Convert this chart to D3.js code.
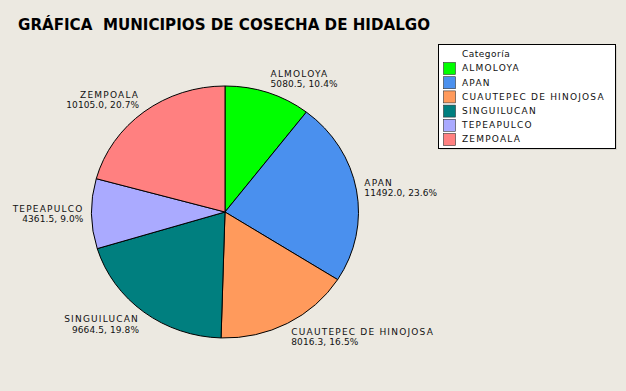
<!DOCTYPE html>
<html><head><meta charset="utf-8">
<script src="https://cdn.jsdelivr.net/npm/d3@7"></script>
<style>
html,body{margin:0;padding:0;background:#ECE9E1;}
svg{display:block;}
</style></head>
<body>
<script>
const title = "GRÁFICA  MUNICIPIOS DE COSECHA DE HIDALGO";
const legendTitle = "Categoría";
const categories = ["ALMOLOYA","APAN","CUAUTEPEC DE HINOJOSA","SINGUILUCAN","TEPEAPULCO","ZEMPOALA"];
const values = [5080.5, 11492.0, 8016.3, 9664.5, 4361.5, 10105.0];
const colors = ["#00FF00","#4A90EE","#FF9A5C","#007F7F","#AAAAFF","#FF8080"];

const W = 626, H = 391;
const svg = d3.select("body").append("svg").attr("width", W).attr("height", H);
svg.append("rect").attr("width", W).attr("height", H).attr("fill", "#ECE9E1");

svg.append("text").attr("x", 18).attr("y", 29.5)
  .attr("font-family", "DejaVu Sans, Verdana, sans-serif").attr("font-weight", "bold")
  .attr("font-size", 15).attr("fill", "#000")
  .attr("textLength", 412).attr("lengthAdjust", "spacingAndGlyphs")
  .style("white-space", "pre").text(title);

const cx = 225, cy = 212, rx = 133.5, ry = 126;
const total = d3.sum(values);
const data = categories.map((c, i) => ({cat: c, value: values[i], color: colors[i]}));
const pie = d3.pie().sort(null).value(d => d.value);
const arcs = pie(data);
const arc = d3.arc().innerRadius(0).outerRadius(rx);

const g = svg.append("g").attr("transform", `translate(${cx},${cy}) scale(1,${ry/rx})`);
g.selectAll("path").data(arcs).join("path")
  .attr("d", arc).attr("fill", d => d.data.color)
  .attr("stroke", "#000").attr("stroke-width", 1)
  .attr("vector-effect", "non-scaling-stroke");

const fmt = d3.format(".1f");
const lbl = svg.append("g").attr("font-family", "DejaVu Sans, Verdana, sans-serif").attr("font-size", 9).attr("fill", "#111");
arcs.forEach(a => {
  const m = (a.startAngle + a.endAngle) / 2;
  const s = Math.sin(m), c = Math.cos(m);
  const px = cx + rx * s, py = cy - ry * c;
  const x = px + s * 8;
  const yc = py - c * 15;
  const anchor = s >= 0 ? "start" : "end";
  const t = lbl.append("text").attr("text-anchor", anchor);
  t.append("tspan").attr("x", x).attr("y", yc - 5.25 + 3.3).style("letter-spacing", "1.2px").text(a.data.cat);
  t.append("tspan").attr("x", x).attr("y", yc + 5.25 + 3.3).style("letter-spacing", "0.1px")
    .text(`${fmt(a.data.value)}, ${fmt(a.data.value / total * 100)}%`);
});

// legend
const lx = 438, ly = 44, lw = 177, lh = 104;
const leg = svg.append("g");
leg.append("rect").attr("x", lx + 2).attr("y", ly + 2).attr("width", lw).attr("height", lh).attr("fill", "#D6D3CB");
leg.append("rect").attr("x", lx + 0.5).attr("y", ly + 0.5).attr("width", lw).attr("height", lh)
  .attr("fill", "#fff").attr("stroke", "#000").attr("stroke-width", 1);
leg.append("text").attr("x", 462).attr("y", 56.5).attr("font-family", "DejaVu Sans, Verdana, sans-serif")
  .attr("font-size", 9).style("letter-spacing", "0.5px").attr("fill", "#111").text(legendTitle);
const items = leg.selectAll("g.item").data(data).join("g").attr("class", "item")
  .attr("transform", (d, i) => `translate(0,${68 + i * 14.2})`);
items.append("rect").attr("x", 443.5).attr("y", -5.5).attr("width", 12).attr("height", 12)
  .attr("fill", d => d.color).attr("stroke", "#333").attr("stroke-width", 0.6);
items.append("text").attr("x", 462).attr("y", 3.3).attr("font-family", "DejaVu Sans, Verdana, sans-serif")
  .attr("font-size", 9).style("letter-spacing", "1.2px").attr("fill", "#111").text(d => d.cat);
</script>
</body></html>
